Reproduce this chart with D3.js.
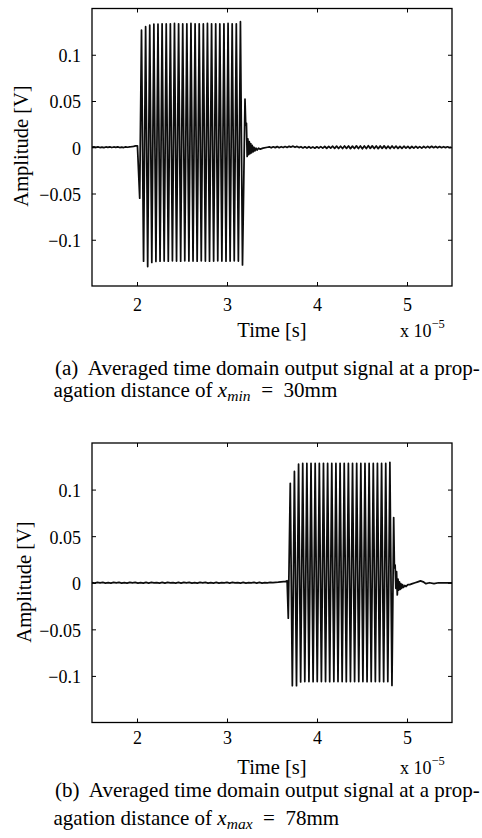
<!DOCTYPE html>
<html><head><meta charset="utf-8">
<script src="https://cdn.jsdelivr.net/npm/d3@7"></script>
<style>
body{margin:0;background:#fff}
svg{display:block}
text{font-family:"Liberation Serif","Times New Roman",Times,serif;fill:#000;white-space:pre}
</style>
</head><body>
<svg id="c" width="482" height="838"></svg>
<script>
// ---------------- DATA ----------------
const xTicks = [2, 3, 4, 5];
const xTickLabels = ["2", "3", "4", "5"];
const yTicks = [-0.1, -0.05, 0, 0.05, 0.1];
const yTickLabels = ["\u22120.1", "\u22120.05", "0", "0.05", "0.1"];
const xDomain = [1.5, 5.5];      // time, units of 1e-5 s
const yDomain = [-0.15, 0.15];   // amplitude, V

// ---- panel (a): x_min = 30 mm ----
const preA_t0 = 1.50, preA_dt = 0.022;
const preA = [0.0000,0.0003,-0.0002,0.0004,-0.0003,0.0002,-0.0004,0.0003,-0.0002,0.0004,
  -0.0003,0.0003,-0.0002,0.0004,-0.0003,0.0002,-0.0003,0.0004,0.0000,0.0005,0.0006,0.0010,0.0015];
const onsetA = [[2.005, 0.0015], [2.030, -0.055]];
const burstA_t0 = 2.050, burstA_half = 0.0229;
const peaksA = [0.1265,0.1303,0.132,0.133,0.1332,0.1335,0.1333,0.1335,0.1338,0.1335,0.1333,0.1335,
  0.1338,0.1335,0.1335,0.1333,0.1338,0.1335,0.1335,0.1333,0.1335,0.1338,0.1335,0.1335,0.1358];
const troughsA = [-0.1232,-0.1290,-0.1245,-0.1235,-0.1232,-0.1230,-0.1232,-0.1228,-0.1230,-0.1232,
  -0.1228,-0.1230,-0.1230,-0.1232,-0.1228,-0.1230,-0.1232,-0.1230,-0.1228,-0.1230,-0.1232,-0.1230,
  -0.1228,-0.1230,-0.1272];
const tailA = [[3.200,0.052],[3.208,0.024],[3.216,0.026],[3.224,-0.010],[3.232,0.009],[3.240,-0.008],
  [3.248,0.006],[3.256,-0.007],[3.264,0.004],[3.272,-0.006],[3.280,0.002],[3.290,-0.005],[3.300,0.000],
  [3.310,-0.004],[3.322,-0.001],[3.335,-0.003],[3.350,-0.001],[3.370,-0.002],[3.400,-0.001],[3.450,0.000]];
const noiseA_t0 = 3.47, noiseA_dt = 0.022;
const noiseA = [0.0004,-0.0006,0.0005,-0.0004,0.0007,-0.0005,0.0006,-0.0003,0.0008,-0.0002,
  0.0010,0.0002,0.0012,0.0000,0.0009,-0.0004,0.0006,-0.0007,0.0005,-0.0008,
  0.0006,-0.0009,0.0004,-0.0010,0.0005,-0.0008,0.0007,-0.0009,0.0008,-0.0011,
  0.0009,-0.0010,0.0011,-0.0012,0.0012,-0.0013,0.0011,-0.0014,0.0013,-0.0012,
  0.0014,-0.0015,0.0012,-0.0013,0.0015,-0.0014,0.0013,-0.0016,0.0014,-0.0013,
  0.0016,-0.0012,0.0015,-0.0014,0.0013,-0.0015,0.0014,-0.0012,0.0015,-0.0013,
  0.0012,-0.0014,0.0013,-0.0011,0.0012,-0.0013,0.0010,-0.0012,0.0011,-0.0009,
  0.0010,-0.0011,0.0008,-0.0010,0.0009,-0.0008,0.0007,-0.0009,0.0008,-0.0007,
  0.0009,-0.0006,0.0010,-0.0005,0.0008,-0.0006,0.0007,-0.0005,0.0006,-0.0004,
  0.0005,-0.0003,0.0002];

// ---- panel (b): x_max = 78 mm ----
const preB_t0 = 1.50, preB_dt = 0.03;
const preB = [0.0002,-0.0003,0.0003,-0.0002,0.0004,-0.0003,0.0002,-0.0004,0.0003,-0.0002,
  0.0003,-0.0004,0.0002,-0.0003,0.0004,-0.0002,0.0003,-0.0003,0.0002,-0.0004,
  0.0004,-0.0003,0.0003,-0.0002,0.0002,-0.0003,0.0004,-0.0004,0.0003,-0.0002,
  0.0002,-0.0003,0.0003,-0.0004,0.0004,-0.0002,0.0003,-0.0003,0.0002,-0.0004,
  0.0003,-0.0002,0.0004,-0.0003,0.0002,-0.0003,0.0003,-0.0004,0.0002,-0.0002,
  0.0003,-0.0003,0.0004,-0.0002,0.0002,-0.0004,0.0003,-0.0003,0.0002,-0.0002,
  0.0003,-0.0004,0.0004,-0.0003,0.0002,-0.0002,0.0003,0.0002,0.0004,0.0006,0.0010,0.0012];
const onsetB = [[3.650, 0.0012], [3.668, 0.0022], [3.681, -0.038]];
const burstB_t0 = 3.703, burstB_half = 0.02306;
const peaksB = [0.1067,0.1195,0.1272,0.128,0.128,0.1282,0.128,0.128,0.1282,0.128,0.128,0.128,
  0.1282,0.128,0.128,0.128,0.1282,0.128,0.128,0.128,0.128,0.1282,0.128,0.128,0.1292];
const troughsB = [-0.1105,-0.1105,-0.1065,-0.106,-0.106,-0.1062,-0.106,-0.106,-0.106,-0.1062,
  -0.106,-0.106,-0.106,-0.1062,-0.106,-0.106,-0.106,-0.106,-0.1062,-0.106,-0.106,-0.106,-0.1062,
  -0.106,-0.1102];
const tailB = [[4.852,0.070],[4.860,0.016],[4.868,0.019],[4.876,-0.006],[4.884,0.012],[4.892,-0.013],
  [4.900,0.004],[4.908,-0.008],[4.916,0.001],[4.924,-0.007],[4.932,-0.001],[4.940,-0.006],[4.950,-0.002],
  [4.960,-0.005],[4.975,-0.003],[4.990,-0.004],[5.010,-0.002],[5.030,-0.002],[5.060,-0.001],[5.090,0.000],
  [5.120,0.001],[5.150,0.002],[5.180,0.001],[5.210,-0.001],[5.250,0.000],[5.300,-0.001],[5.350,0.000],
  [5.400,0.000],[5.450,0.000],[5.500,0.000]];

const captionsA = ["(a)  Averaged time domain output signal at a prop-", "agation distance of ", "x", "min", "\u2002=\u200230mm"];
const captionsB = ["(b)  Averaged time domain output signal at a prop-", "agation distance of ", "x", "max", "\u2002=\u200278mm"];

// --------------- BUILD SERIES ---------------
function buildSeries(pre, pre_t0, pre_dt, onset, b_t0, b_half, peaks, troughs, tail, noise, n_t0, n_dt) {
  const pts = [];
  pre.forEach((v, i) => pts.push([pre_t0 + i * pre_dt, v]));
  onset.forEach(p => pts.push(p));
  peaks.forEach((v, k) => {
    pts.push([b_t0 + 2 * k * b_half, v]);
    pts.push([b_t0 + (2 * k + 1) * b_half, troughs[k]]);
  });
  tail.forEach(p => pts.push(p));
  if (noise) noise.forEach((v, i) => pts.push([n_t0 + i * n_dt, v]));
  return pts;
}
const seriesA = buildSeries(preA, preA_t0, preA_dt, onsetA, burstA_t0, burstA_half, peaksA, troughsA, tailA, noiseA, noiseA_t0, noiseA_dt);
const seriesB = buildSeries(preB, preB_t0, preB_dt, onsetB, burstB_t0, burstB_half, peaksB, troughsB, tailB, null);

// --------------- DRAW ---------------
const svg = d3.select("#c");
svg.append("rect").attr("width", 482).attr("height", 838).attr("fill", "#fff");

const panels = [
  {series: seriesA, top: 8.5, bottom: 286, xLabBase: 310.5, timeBase: 337, ylabX: 28, ylabY: 146,
   cap: captionsA, cap1: 374.5, cap2: 397, id: "a"},
  {series: seriesB, top: 443, bottom: 722.5, xLabBase: 744, timeBase: 774, ylabX: 31, ylabY: 582,
   cap: captionsB, cap1: 797, cap2: 825, id: "b"}
];
const L = 92, R = 452;

panels.forEach(p => {
  const x = d3.scaleLinear().domain(xDomain).range([L, R]);
  const y = d3.scaleLinear().domain(yDomain).range([p.bottom, p.top]);
  const g = svg.append("g");

  g.append("clipPath").attr("id", "clip" + p.id)
    .append("rect").attr("x", L).attr("y", p.top).attr("width", R - L).attr("height", p.bottom - p.top);

  g.append("path").datum(p.series)
    .attr("clip-path", `url(#clip${p.id})`)
    .attr("fill", "none").attr("stroke", "#0d0d0d").attr("stroke-width", 1.75)
    .attr("stroke-linejoin", "round")
    .attr("d", d3.line().x(d => x(d[0])).y(d => y(d[1])));

  // axes (ticks inward, mirrored on all sides)
  const ax = g.append("g").attr("transform", `translate(0,${p.bottom})`)
    .call(d3.axisBottom(x).tickValues(xTicks).tickFormat((d, i) => xTickLabels[i]).tickSizeInner(-4).tickSizeOuter(0).tickPadding(0));
  ax.selectAll("text").attr("y", p.xLabBase - p.bottom).attr("dy", null)
    .style("font-size", "18px").style("font-family", '"Liberation Serif",serif');
  g.append("g").attr("transform", `translate(0,${p.top})`)
    .call(d3.axisTop(x).tickValues(xTicks).tickFormat("").tickSizeInner(-4).tickSizeOuter(0));
  const ay = g.append("g").attr("transform", `translate(${L},0)`)
    .call(d3.axisLeft(y).tickValues(yTicks).tickFormat((d, i) => yTickLabels[i]).tickSizeInner(-4).tickSizeOuter(0).tickPadding(11));
  ay.selectAll("text").attr("dy", "0.38em")
    .style("font-size", "18px").style("font-family", '"Liberation Serif",serif');
  g.append("g").attr("transform", `translate(${R},0)`)
    .call(d3.axisRight(y).tickValues(yTicks).tickFormat("").tickSizeInner(-4).tickSizeOuter(0));
  g.selectAll(".domain").remove();
  g.selectAll(".tick line").attr("stroke", "#000").attr("stroke-width", 1);

  g.append("rect").attr("x", L).attr("y", p.top).attr("width", R - L).attr("height", p.bottom - p.top)
    .attr("fill", "none").attr("stroke", "#000").attr("stroke-width", 1.3);

  // labels
  g.append("text").attr("x", (L + R) / 2).attr("y", p.timeBase).attr("text-anchor", "middle")
    .style("font-size", "20.5px").text("Time [s]");
  const ex = g.append("text").attr("x", 400).attr("y", p.timeBase - 0.5).style("font-size", "18px");
  ex.append("tspan").text("x 10");
  ex.append("tspan").attr("dy", -9).style("font-size", "12.5px").text("\u22125");
  g.append("text").attr("transform", `translate(${p.ylabX},${p.ylabY}) rotate(-90)`)
    .attr("text-anchor", "middle").style("font-size", "20.5px").text("Amplitude [V]");

  // caption
  const c1 = g.append("text").attr("x", 55).attr("y", p.cap1).style("font-size", "20px").text(p.cap[0]);
  const w = c1.node().getComputedTextLength();
  const fs = 20 * 425 / w;
  c1.style("font-size", fs + "px");
  const c2 = g.append("text").attr("x", 53.5).attr("y", p.cap2).style("font-size", fs + "px");
  c2.append("tspan").text(p.cap[1]);
  c2.append("tspan").style("font-style", "italic").text(p.cap[2]);
  c2.append("tspan").style("font-style", "italic").style("font-size", (fs * 0.74) + "px").attr("dy", 4).text(p.cap[3]);
  c2.append("tspan").attr("dy", -4).text(p.cap[4]);
});
</script>
</body></html>
